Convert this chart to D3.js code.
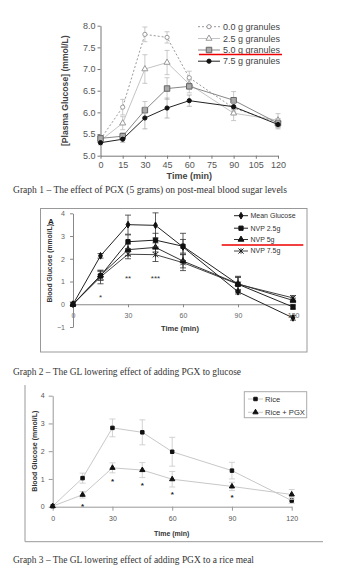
<!DOCTYPE html>
<html>
<head>
<meta charset="utf-8">
<script src="https://cdn.jsdelivr.net/npm/d3@7"></script>
<style>
  body { margin: 0; background: #fff; }
  svg { display: block; }
</style>
</head>
<body>
<div id="chart"></div>
<script>
var W = 350, H = 577;

// ---- Graph 1 data ----
var g1Times = [0, 15, 30, 45, 60, 90, 120];
var g1Names = ["0.0 g granules", "2.5 g granules", "5.0 g granules", "7.5 g granules"];
var g1Val0 = [5.38, 6.12, 7.8, 7.73, 6.8, 6.1, 5.76];
var g1Val25 = [5.35, 5.75, 7.0, 7.15, 6.65, 5.98, 5.82];
var g1Val50 = [5.4, 5.45, 6.05, 6.55, 6.6, 6.28, 5.75];
var g1Val75 = [5.3, 5.38, 5.87, 6.1, 6.27, 6.13, 5.72];
var g1Err0 = [0.05, 0.18, 0.17, 0.13, 0.15, 0.1, 0.1];
var g1Err25 = [0.05, 0.15, 0.33, 0.28, 0.1, 0.17, 0.15];
var g1Err50 = [0.05, 0.08, 0.2, 0.25, 0.15, 0.2, 0.1];
var g1Err75 = [0.05, 0.07, 0.25, 0.23, 0.13, 0.1, 0.1];
var g1XTicks = [0, 15, 30, 45, 60, 75, 90, 105, 120];
var g1YTicks = [5.0, 5.5, 6.0, 6.5, 7.0, 7.5, 8.0];

// ---- Graph 2 data ----
var g2Times = [0, 15, 30, 45, 60, 90, 120];
var g2Names = ["Mean Glucose", "NVP 2.5g", "NVP 5g", "NVP 7.5g"];
var g2Mean = [0, 2.13, 3.5, 3.47, 2.52, 0.55, -0.6];
var g2Nvp25 = [0, 1.25, 2.75, 2.82, 2.55, 0.88, -0.12];
var g2Nvp5 = [0, 1.27, 2.4, 2.5, 1.9, 0.9, 0.17];
var g2Nvp75 = [0, 1.2, 2.2, 2.18, 1.83, 0.88, 0.28];
var g2ErrMean = [0, 0.1, 0.42, 0.55, 0.6, 0.1, 0.1];
var g2Err25 = [0, 0.2, 0.3, 0.3, 0.3, 0.35, 0.1];
var g2Err5 = [0, 0.2, 0.25, 0.2, 0.3, 0.3, 0.1];
var g2Err75 = [0, 0.3, 0.2, 0.3, 0.35, 0.3, 0.1];
var g2XTicks = [0, 30, 60, 90, 120];
var g2YTicks = [-1, 0, 1, 2, 3, 4];
var g2StarTimes = [15, 30, 45];
var g2StarText = ["*", "**", "***"];
var g2StarVals = [0.35, 1.22, 1.22];

// ---- Graph 3 data ----
var g3Times = [0, 15, 30, 45, 60, 90, 120];
var g3Names = ["Rice", "Rice + PGX"];
var g3Rice = [0.02, 1.03, 2.84, 2.68, 1.98, 1.3, 0.22];
var g3Pgx = [0.02, 0.43, 1.4, 1.32, 0.99, 0.73, 0.44];
var g3ErrRice = [0, 0.18, 0.32, 0.45, 0.52, 0.3, 0.1];
var g3ErrPgx = [0, 0.12, 0.18, 0.27, 0.28, 0.15, 0.18];
var g3XTicks = [0, 30, 60, 90, 120];
var g3YTicks = [0, 1, 2, 3, 4];
var g3StarTimes = [15, 30, 45, 60, 90];
var g3StarVals = [0.06, 0.98, 0.82, 0.5, 0.38];

var captions = [
  "Graph 1 \u2013 The effect of PGX (5 grams) on post-meal blood sugar levels",
  "Graph 2 \u2013 The GL lowering effect of adding PGX to glucose",
  "Graph 3 \u2013 The GL lowering effect of adding PGX to a rice meal"
];

var svg = d3.select("#chart").append("svg")
    .attr("width", W)
    .attr("height", H)
    .style("font-family", "'Liberation Sans', Arial, sans-serif");

svg.append("rect").attr("width", W).attr("height", H).attr("fill", "#fff");

// X-shaped marker with a vertical stroke (asterisk-like)
function starPath(s) {
    return "M" + (-s) + "," + (-s) + "L" + s + "," + s +
           "M" + (-s) + "," + s + "L" + s + "," + (-s) +
           "M0," + (-s) + "L0," + s;
}

function drawMarker(g, type, x, y, st) {
    if (type === "star") {
        g.append("path").attr("d", starPath(st.r))
            .attr("transform", "translate(" + x + "," + y + ")")
            .attr("fill", "none").attr("stroke", st.stroke).attr("stroke-width", 1);
        return;
    }
    var sym = { circle: d3.symbolCircle, triangle: d3.symbolTriangle,
                square: d3.symbolSquare, diamond: d3.symbolDiamond }[type];
    g.append("path")
        .attr("d", d3.symbol().type(sym).size(st.size)())
        .attr("transform", "translate(" + x + "," + y + ")")
        .attr("fill", st.fill)
        .attr("stroke", st.stroke)
        .attr("stroke-width", st.sw || 1);
}

function drawSeries(g, times, vals, errs, x, y, st) {
    var line = d3.line()
        .x(function(d, i) { return x(times[i]); })
        .y(function(d) { return y(d); });

    // error bars
    var cap = st.cap || 2.5;
    vals.forEach(function(v, i) {
        if (!errs[i]) return;
        var cx = x(times[i]);
        g.append("line").attr("x1", cx).attr("x2", cx)
            .attr("y1", y(v - errs[i])).attr("y2", y(v + errs[i]))
            .attr("stroke", st.errColor).attr("stroke-width", 0.8);
        [v - errs[i], v + errs[i]].forEach(function(e) {
            g.append("line").attr("x1", cx - cap).attr("x2", cx + cap)
                .attr("y1", y(e)).attr("y2", y(e))
                .attr("stroke", st.errColor).attr("stroke-width", 0.8);
        });
    });

    g.append("path")
        .datum(vals)
        .attr("d", line)
        .attr("fill", "none")
        .attr("stroke", st.line)
        .attr("stroke-width", st.lw || 1)
        .attr("stroke-dasharray", st.dash || null);

    vals.forEach(function(v, i) {
        drawMarker(g, st.marker, x(times[i]), y(v), st);
    });
}

function styleAxis(g, color, textColor, fontSize) {
    g.selectAll("path, line").attr("stroke", color);
    g.selectAll("text").attr("fill", textColor).style("font-size", fontSize + "px")
        .style("font-family", "'Liberation Sans', Arial, sans-serif");
}

function legendRow(g, x1, x2, tx, y, name, st, fontSize, color) {
    g.append("line").attr("x1", x1).attr("x2", x2).attr("y1", y).attr("y2", y)
        .attr("stroke", st.line).attr("stroke-width", st.lw || 1)
        .attr("stroke-dasharray", st.dash || null);
    drawMarker(g, st.marker, (x1 + x2) / 2, y, st);
    g.append("text").attr("x", tx).attr("y", y).attr("dy", "0.35em")
        .attr("fill", color).style("font-size", fontSize + "px").text(name);
}

// =========== Graph 1 ===========
(function() {
    var g = svg.append("g");
    var x = d3.scaleLinear().domain([0, 120]).range([100.5, 278]);
    var y = d3.scaleLinear().domain([5, 8]).range([155.7, 25.7]);

    var xa = g.append("g").attr("transform", "translate(0," + y(5) + ")")
        .call(d3.axisBottom(x).tickValues(g1XTicks).tickSize(3).tickPadding(3).tickSizeOuter(0));
    styleAxis(xa, "#777", "#555", 9);
    var ya = g.append("g").attr("transform", "translate(" + x(0) + ",0)")
        .call(d3.axisLeft(y).tickValues(g1YTicks).tickFormat(d3.format(".1f")).tickSize(3).tickPadding(2).tickSizeOuter(0));
    styleAxis(ya, "#777", "#555", 9);

    g.append("text").attr("x", (x(0) + x(120)) / 2).attr("y", 179)
        .attr("text-anchor", "middle").attr("fill", "#444")
        .style("font-size", "9px").style("font-weight", "bold").text("Time (min)");
    g.append("text").attr("transform", "translate(68," + ((y(5) + y(8)) / 2) + ") rotate(-90)")
        .attr("text-anchor", "middle").attr("fill", "#444")
        .style("font-size", "8.6px").style("font-weight", "bold").text("[Plasma Glucose] (mmol/L)");

    var styles = [
        { marker: "circle", line: "#999", dash: "2,2", fill: "#fff", stroke: "#999", size: 14, errColor: "#bbb" },
        { marker: "triangle", line: "#c4c4c4", fill: "#fff", stroke: "#999", size: 16, errColor: "#bbb" },
        { marker: "square", line: "#888", fill: "#aaa", stroke: "#666", size: 30, errColor: "#bbb" },
        { marker: "circle", line: "#222", fill: "#111", stroke: "#111", size: 14, errColor: "#aaa" }
    ];
    var vals = [g1Val0, g1Val25, g1Val50, g1Val75];
    var errs = [g1Err0, g1Err25, g1Err50, g1Err75];
    for (var i = 0; i < 4; i++) drawSeries(g, g1Times, vals[i], errs[i], x, y, styles[i]);

    var ly = [26.7, 38.5, 50, 61.2];
    for (var k = 0; k < 4; k++) legendRow(g, 198, 220, 223, ly[k], g1Names[k], styles[k], 9, "#444");

    g.append("line").attr("x1", 199).attr("x2", 282).attr("y1", 54.5).attr("y2", 54.5)
        .attr("stroke", "#e00").attr("stroke-width", 1.5);
})();

// =========== Graph 2 ===========
(function() {
    var g = svg.append("g");
    g.append("rect").attr("x", 40.5).attr("y", 208.5).attr("width", 266.5).attr("height", 143.5)
        .attr("fill", "none").attr("stroke", "#999").attr("stroke-width", 1);

    var x = d3.scaleLinear().domain([0, 120]).range([73, 293]);
    var y = d3.scaleLinear().domain([-1, 4]).range([327, 213.3]);

    var xa = g.append("g").attr("transform", "translate(0," + y(0) + ")")
        .call(d3.axisBottom(x).tickValues(g2XTicks).tickSize(3).tickPadding(6).tickSizeOuter(0));
    styleAxis(xa, "#888", "#666", 7);
    var ya = g.append("g").attr("transform", "translate(" + x(0) + ",0)")
        .call(d3.axisLeft(y).tickValues(g2YTicks).tickFormat(d3.format("d")).tickSize(3).tickPadding(5).tickSizeOuter(0));
    styleAxis(ya, "#888", "#666", 7);

    g.append("text").attr("x", 48).attr("y", 223.5).attr("fill", "#222")
        .style("font-size", "8px").style("font-weight", "bold").text("A");
    g.append("text").attr("x", 180).attr("y", 330.5).attr("text-anchor", "middle")
        .attr("fill", "#333").style("font-size", "7.5px").style("font-weight", "bold").text("Time (min)");
    g.append("text").attr("transform", "translate(52," + y(1.8) + ") rotate(-90)")
        .attr("text-anchor", "middle").attr("fill", "#333")
        .style("font-size", "6.8px").style("font-weight", "bold").text("Blood Glucose (mmol/L)");

    var styles = [
        { marker: "diamond", line: "#222", fill: "#111", stroke: "#111", size: 13, errColor: "#333", cap: 3 },
        { marker: "square", line: "#222", fill: "#111", stroke: "#111", size: 18, errColor: "#333", cap: 3 },
        { marker: "triangle", line: "#333", fill: "#111", stroke: "#111", size: 15, errColor: "#333", cap: 3 },
        { marker: "star", line: "#444", fill: "none", stroke: "#222", r: 2.6, errColor: "#333", cap: 3 }
    ];
    var vals = [g2Mean, g2Nvp25, g2Nvp5, g2Nvp75];
    var errs = [g2ErrMean, g2Err25, g2Err5, g2Err75];
    for (var i = 3; i >= 0; i--) drawSeries(g, g2Times, vals[i], errs[i], x, y, styles[i]);

    g2StarTimes.forEach(function(t, i) {
        g.append("text").attr("x", x(t)).attr("y", y(g2StarVals[i]) + 4)
            .attr("text-anchor", "middle").attr("fill", "#333")
            .style("font-size", "8px").text(g2StarText[i]);
    });

    var ly = [215.7, 228.2, 239.5, 251];
    for (var k = 0; k < 4; k++) legendRow(g, 234, 248, 250.5, ly[k], g2Names[k], styles[k], 7, "#333");

    g.append("line").attr("x1", 221.7).attr("x2", 303.3).attr("y1", 245).attr("y2", 245)
        .attr("stroke", "#e00").attr("stroke-width", 1.5);
})();

// =========== Graph 3 ===========
(function() {
    var g = svg.append("g");
    g.append("line").attr("x1", 25).attr("x2", 25).attr("y1", 385).attr("y2", 541.7)
        .attr("stroke", "#999");
    g.append("line").attr("x1", 25).attr("x2", 323).attr("y1", 541.7).attr("y2", 541.7)
        .attr("stroke", "#999");

    var x = d3.scaleLinear().domain([0, 120]).range([52.7, 291.7]);
    var y = d3.scaleLinear().domain([0, 4]).range([506.7, 395.7]);

    var xa = g.append("g").attr("transform", "translate(0," + y(0) + ")")
        .call(d3.axisBottom(x).tickValues(g3XTicks).tickSize(4).tickPadding(5).tickSizeOuter(0));
    styleAxis(xa, "#999", "#555", 7);
    var ya = g.append("g").attr("transform", "translate(" + x(0) + ",0)")
        .call(d3.axisLeft(y).tickValues(g3YTicks).tickFormat(d3.format("d")).tickSize(4).tickPadding(4).tickSizeOuter(0));
    styleAxis(ya, "#999", "#555", 7);

    g.append("text").attr("x", 171.7).attr("y", 536).attr("text-anchor", "middle")
        .attr("fill", "#333").style("font-size", "7px").style("font-weight", "bold").text("Time (min)");
    g.append("text").attr("transform", "translate(37," + y(2) + ") rotate(-90)")
        .attr("text-anchor", "middle").attr("fill", "#333")
        .style("font-size", "7px").style("font-weight", "bold").text("Blood Glucose (mmol/L)");

    var styles = [
        { marker: "square", line: "#c8c8c8", fill: "#111", stroke: "#111", size: 12, errColor: "#c8c8c8", cap: 3 },
        { marker: "triangle", line: "#c8c8c8", fill: "#111", stroke: "#111", size: 12, errColor: "#c8c8c8", cap: 3 }
    ];
    drawSeries(g, g3Times, g3Rice, g3ErrRice, x, y, styles[0]);
    drawSeries(g, g3Times, g3Pgx, g3ErrPgx, x, y, styles[1]);

    g3StarTimes.forEach(function(t, i) {
        g.append("text").attr("x", x(t)).attr("y", y(g3StarVals[i]) + 4)
            .attr("text-anchor", "middle").attr("fill", "#222")
            .style("font-size", "8px").style("font-weight", "bold").text("*");
    });

    g.append("rect").attr("x", 244.3).attr("y", 391.7).attr("width", 62.4).attr("height", 26)
        .attr("fill", "#fff").attr("stroke", "#aaa");
    legendRow(g, 248, 263, 265, 399, g3Names[0], styles[0], 7.6, "#333");
    legendRow(g, 248, 263, 265, 412.3, g3Names[1], styles[1], 7.6, "#333");
})();

// =========== Captions ===========
var capY = [192.5, 375, 563];
var capLen = [274, 228, 241];
captions.forEach(function(c, i) {
    svg.append("text").attr("x", 13).attr("y", capY[i])
        .attr("fill", "#333")
        .attr("textLength", capLen[i]).attr("lengthAdjust", "spacingAndGlyphs")
        .style("font-family", "'Liberation Serif', 'Times New Roman', serif")
        .style("font-size", "9.5px")
        .text(c);
});
</script>
</body>
</html>
